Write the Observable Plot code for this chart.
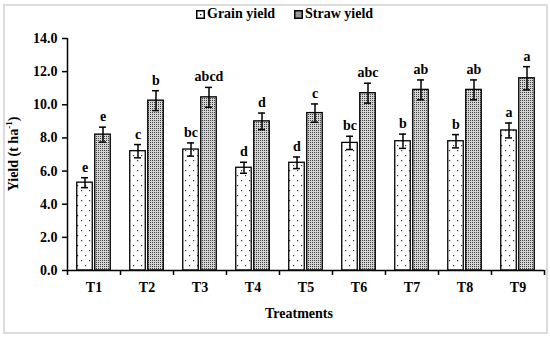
<!DOCTYPE html>
<html>
<head>
<meta charset="utf-8">
<script src="https://cdn.jsdelivr.net/npm/d3@7"></script>
<script src="https://cdn.jsdelivr.net/npm/@observablehq/plot@0.6"></script>
<style>
  body { margin: 0; background: #fff; }
  #wrap { position: relative; width: 550px; height: 339px; font-family: "Liberation Serif", "Times New Roman", serif; }
  #frame { position: absolute; left: 3px; top: 4px; width: 541px; height: 326px; border: 2px solid #dcdcdc; }
  #legend { position: absolute; top: 6px; left: 0; width: 550px; height: 20px; font-weight: bold; font-size: 14px; color: #000; }
  .item { position: absolute; top: 0; display: flex; align-items: center; white-space: nowrap; font-family: "Liberation Serif", serif; font-size: 14px; }
  .item svg { margin-right: 2px; }
  #chart { position: absolute; left: 0; top: 28px; }
</style>
</head>
<body>
<div id="wrap">
  <div id="frame"></div>
  <div id="legend">
    <div class="item" style="left:196px"><svg width="9" height="9"><rect x="0.75" y="0.75" width="7.5" height="7.5" fill="#fff" stroke="#000" stroke-width="1.5"/><rect x="4" y="4" width="1.2" height="1.2" fill="#000"/></svg>Grain yield</div>
    <div class="item" style="left:294px"><svg width="9" height="9"><rect x="0.75" y="0.75" width="7.5" height="7.5" fill="#999" stroke="#000" stroke-width="1.5"/></svg>Straw yield</div>
  </div>
  <div id="chart"></div>
</div>
<script>
const treatments = ["T1","T2","T3","T4","T5","T6","T7","T8","T9"];
const grainYield = [5.3, 7.2, 7.3, 6.2, 6.5, 7.7, 7.8, 7.8, 8.45];
const strawYield = [8.2, 10.25, 10.45, 9.0, 9.5, 10.7, 10.9, 10.9, 11.6];
const grainErr = [0.3, 0.4, 0.4, 0.33, 0.35, 0.4, 0.43, 0.4, 0.45];
const strawErr = [0.45, 0.6, 0.6, 0.5, 0.55, 0.6, 0.6, 0.6, 0.7];
const grainLetters = ["e","c","bc","d","d","bc","b","b","a"];
const strawLetters = ["e","b","abcd","d","c","abc","ab","ab","a"];
const yTicks = [0, 2, 4, 6, 8, 10, 12, 14];

const data = treatments.map((t, i) => ({
  t, grain: grainYield[i], straw: strawYield[i],
  ge: grainErr[i], se: strawErr[i],
  gl: grainLetters[i], sl: strawLetters[i]
}));

const width = 550, height = 306;
const mL = 67, mR = 6, mT = 10, mB = 64;
const bw = (width - mL - mR) / treatments.length;
const half = bw / 2;
const off = 9; // offset of each bar center from band center
const font = "Liberation Serif, Times New Roman, serif";

const plot = Plot.plot({
  width, height,
  marginLeft: mL, marginRight: mR, marginTop: mT, marginBottom: mB,
  style: { fontFamily: font, fontSize: "14px", fontWeight: "bold", color: "#000", background: "transparent" },
  x: { domain: treatments, padding: 0, axis: null },
  y: { domain: [0, 14], axis: null },
  marks: [
    Plot.barY(data, { x: "t", y: "grain", insetLeft: half - off - 7.75, insetRight: half + off - 7.75, fill: "url(#pGrain)", stroke: "#000", strokeWidth: 1.3 }),
    Plot.barY(data, { x: "t", y: "straw", insetLeft: half + off - 7.75, insetRight: half - off - 7.75, fill: "url(#pStraw)", stroke: "#000", strokeWidth: 1.3 }),
    Plot.ruleX(data, { x: "t", y1: d => d.grain - d.ge, y2: d => d.grain + d.ge, dx: -off, stroke: "#000", strokeWidth: 1.5 }),
    Plot.ruleX(data, { x: "t", y1: d => d.straw - d.se, y2: d => d.straw + d.se, dx: off, stroke: "#000", strokeWidth: 1.5 }),
    Plot.tickY(data, { x: "t", y: d => d.grain + d.ge, insetLeft: half - off - 3.5, insetRight: half + off - 3.5, stroke: "#000", strokeWidth: 1.5 }),
    Plot.tickY(data, { x: "t", y: d => d.grain - d.ge, insetLeft: half - off - 3.5, insetRight: half + off - 3.5, stroke: "#000", strokeWidth: 1.5 }),
    Plot.tickY(data, { x: "t", y: d => d.straw + d.se, insetLeft: half + off - 3.5, insetRight: half - off - 3.5, stroke: "#000", strokeWidth: 1.5 }),
    Plot.tickY(data, { x: "t", y: d => d.straw - d.se, insetLeft: half + off - 3.5, insetRight: half - off - 3.5, stroke: "#000", strokeWidth: 1.5 }),
    Plot.text(data, { x: "t", y: d => d.grain + d.ge, text: "gl", dx: -off, dy: -6, lineAnchor: "bottom", fontSize: 14, fontWeight: "bold", fill: "#000" }),
    Plot.text(data, { x: "t", y: d => d.straw + d.se, text: "sl", dx: off, dy: -6, lineAnchor: "bottom", fontSize: 14, fontWeight: "bold", fill: "#000" }),
    Plot.ruleY([0], { stroke: "#000", strokeWidth: 1.5 }),
    Plot.ruleX(["T1"], { y1: 0, y2: 14, dx: -half, stroke: "#000", strokeWidth: 1.5 }),
    Plot.ruleX(treatments, { y1: 0, y2: -0.3, dx: -half, stroke: "#000", strokeWidth: 1.5 }),
    Plot.ruleX(["T9"], { y1: 0, y2: -0.3, dx: half, stroke: "#000", strokeWidth: 1.5 }),
    Plot.axisY(yTicks, { tickSize: 5, tickPadding: 5, tickFormat: d3.format(".1f"), label: null, fontSize: 14, fontWeight: "bold", strokeWidth: 1.5 }),
    Plot.axisX({ tickSize: 0, tickPadding: 12, label: null, fontSize: 14, fontWeight: "bold" }),
    Plot.text(["Treatments"], { frameAnchor: "bottom", dy: 47, dx: -7, fontSize: 14, fontWeight: "bold", fill: "#000" })
  ]
});

const defs = d3.select(plot).insert("defs", ":first-child");
const pg = defs.append("pattern").attr("id", "pGrain").attr("patternUnits", "userSpaceOnUse")
  .attr("width", 8).attr("height", 10);
pg.append("rect").attr("width", 8).attr("height", 10).attr("fill", "#fff");
pg.append("rect").attr("x", 1).attr("y", 2).attr("width", 1.2).attr("height", 1.2).attr("fill", "#333");
pg.append("rect").attr("x", 5).attr("y", 7).attr("width", 1.2).attr("height", 1.2).attr("fill", "#333");
const ps = defs.append("pattern").attr("id", "pStraw").attr("patternUnits", "userSpaceOnUse")
  .attr("width", 2).attr("height", 2);
ps.append("rect").attr("width", 2).attr("height", 2).attr("fill", "#d4d4d4");
ps.append("rect").attr("x", 0).attr("y", 0).attr("width", 1).attr("height", 1).attr("fill", "#404040");

const yMid = mT + (height - mT - mB) / 2;
const yt = d3.select(plot).append("text")
  .attr("transform", `translate(15,${yMid}) rotate(-90)`)
  .attr("text-anchor", "middle")
  .attr("dominant-baseline", "middle")
  .attr("font-size", 14).attr("font-weight", "bold").attr("font-family", font).attr("fill", "#000");
yt.append("tspan").text("Yield (t ha");
yt.append("tspan").attr("baseline-shift", "super").attr("font-size", 9).text("-1");
yt.append("tspan").text(")");

document.getElementById("chart").appendChild(plot);
</script>
</body>
</html>
